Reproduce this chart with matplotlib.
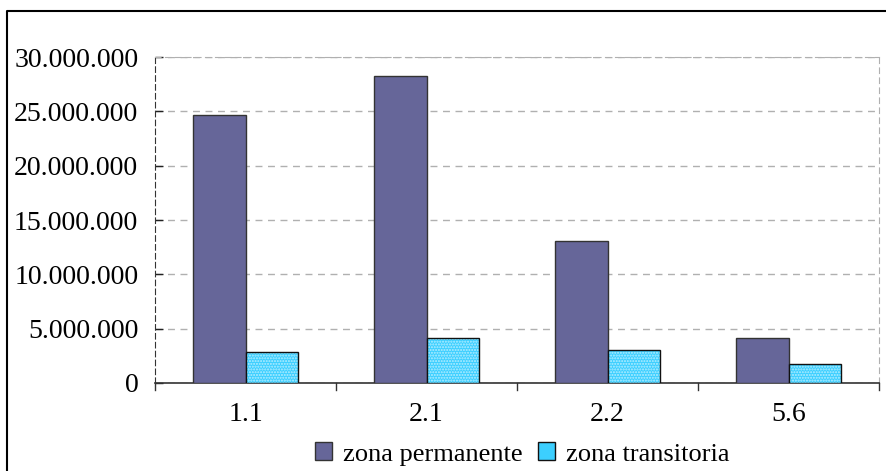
import matplotlib
matplotlib.use("Agg")
import matplotlib.pyplot as plt
from matplotlib.lines import Line2D
from matplotlib.patches import Patch
import numpy as np

categories = ["1.1", "2.1", "2.2", "5.6"]
permanente = [24700000, 28250000, 13100000, 4100000]
transitoria = [2850000, 4100000, 3000000, 1750000]
yticks = [0, 5000000, 10000000, 15000000, 20000000, 25000000, 30000000]
series_names = ["zona permanente", "zona transitoria"]

plt.rcParams['font.family'] = ['Liberation Serif', 'DejaVu Serif']
plt.rcParams['hatch.linewidth'] = 1.0

W, H = 886, 471
fig = plt.figure(figsize=(W / 100, H / 100), dpi=100)
ax = fig.add_axes([155 / W, 1 - 383 / H, (879 - 155) / W, (383 - 57) / H])

x = np.arange(len(categories))
bw = 0.29
c_perm = "#666699"
c_tran = "#3CCFFF"
hatch_col = "#B8EEFF"

ax.bar(x - bw / 2, permanente, bw, color=c_perm, edgecolor="#333333", linewidth=1.0, zorder=3)
ax.bar(x + bw / 2, transitoria, bw, color=c_tran, edgecolor=hatch_col, hatch="......", linewidth=0, zorder=3)
ax.bar(x + bw / 2, transitoria, bw, color="none", edgecolor="#111111", linewidth=1.0, zorder=4)

ax.set_xlim(-0.5, len(categories) - 0.5)
ax.set_ylim(0, 30000000)
ax.set_yticks(yticks)
ax.set_yticklabels([f"{v:,}".replace(",", ".") for v in yticks])
ax.set_xticks(x)
ax.set_xticklabels(categories)
ax.tick_params(axis="x", length=0, pad=14, labelsize=20)
ax.tick_params(axis="y", direction="in", length=6, width=1, color="#222222", pad=12, labelsize=20)

# category boundary ticks
for b in np.arange(-0.5, len(categories) + 0.5, 1.0):
    ax.plot([b, b], [0, -0.02 * 30000000], color="#333333", lw=1, clip_on=False, zorder=5)

ax.yaxis.grid(True, linestyle=(0, (5, 4)), color="#B0B0B0", linewidth=1, zorder=0)
ax.set_axisbelow(True)

ax.spines["left"].set_linestyle((0, (5, 3)))
ax.spines["left"].set_color("#333333")
ax.spines["top"].set_linestyle((0, (5, 4)))
ax.spines["top"].set_color("#B0B0B0")
ax.spines["right"].set_linestyle((0, (5, 4)))
ax.spines["right"].set_color("#B0B0B0")
ax.spines["bottom"].set_color("#333333")
ax.spines["bottom"].set_linewidth(1.2)

handles = [
    Patch(facecolor=c_perm, edgecolor="#333333", linewidth=1.0),
    Patch(facecolor=c_tran, edgecolor="#111111", linewidth=1.0),
]
fig.legend(handles, series_names, loc="center", bbox_to_anchor=(522 / W, 1 - 454 / H),
           ncol=2, frameon=False, fontsize=19, handlelength=0.65, handleheight=0.65,
           handletextpad=0.4, columnspacing=0.6, borderpad=0)

# outer frame (left and top)
fig.add_artist(Line2D([7 / W, 7 / W, 1.0], [0.0, 1 - 11 / H, 1 - 11 / H],
                      transform=fig.transFigure, color="black", lw=1.5))

fig.savefig("out.png", dpi=100)
